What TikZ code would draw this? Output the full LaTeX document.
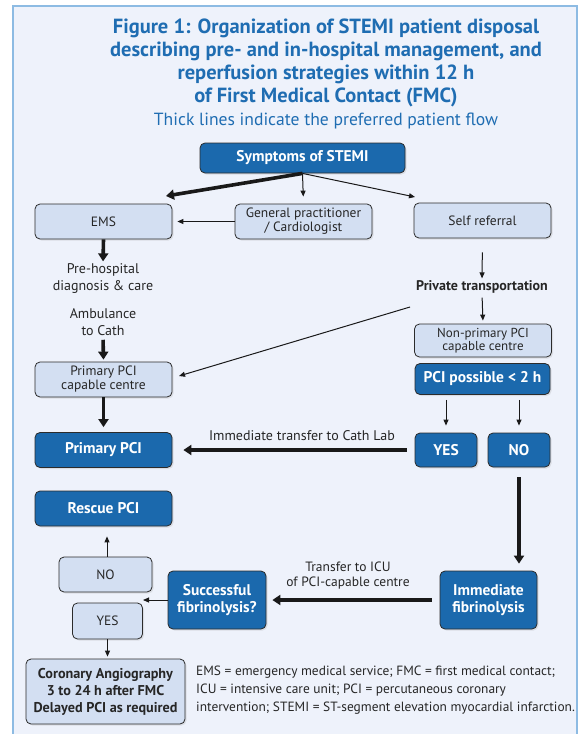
\documentclass[tikz,border=0pt]{standalone}
\usepackage{fontspec}
\setmainfont{PT Sans}
\usetikzlibrary{arrows.meta,shadows}

\definecolor{framebg}{HTML}{EEF2FB}
\definecolor{frameline}{HTML}{8DBBE3}
\definecolor{darkfill}{HTML}{1B69AD}
\definecolor{lightfill}{HTML}{D3DFF2}
\definecolor{titleblue}{HTML}{1F6DB2}
\definecolor{edgecol}{HTML}{2B2B2B}
\definecolor{txt}{HTML}{262626}

\newcommand{\fs}[2]{\fontsize{#1}{#2}\selectfont}

\tikzset{
  box/.style={rounded corners=5pt, draw=edgecol, line width=0.8pt,
    drop shadow={shadow xshift=1.5pt, shadow yshift=-1.5pt, opacity=0.18},
    align=center, inner sep=0pt},
  darkbox/.style={box, fill=darkfill, text=white, font=\bfseries\fs{15.5}{17}},
  lightbox/.style={box, fill=lightfill, text=txt, font=\fs{13.5}{14}},
  plain/.style={align=center, text=txt, inner sep=0pt, font=\fs{14}{17}},
  thinarrow/.style={draw=black!90, line width=1pt, -{Triangle[length=6pt,width=5pt]}},
  thickarrow/.style={draw=black!90, line width=3.6pt, -{Triangle[length=8pt,width=10pt]}}
}

\begin{document}
\begin{tikzpicture}[x=1pt,y=-1pt]
\useasboundingbox (0,0) rectangle (583,734);

% outer panel
\draw[frameline, line width=1.2pt, fill=framebg] (13,6) rectangle (577,760);

% heading
\node[align=center, text=titleblue, font=\bfseries\fs{20.5}{23}, inner sep=0pt] (title) at (326,62.5)
  {Figure 1: Organization of STEMI patient disposal\\
   describing pre- and in-hospital management, and\\
   reperfusion strategies within 12 h\\
   of First Medical Contact (FMC)};
\node[text=titleblue, font=\fs{17.6}{18}, inner sep=0pt] (subtitle) at (326,121)
  {Thick lines indicate the preferred patient flow};

% boxes
\node[darkbox, minimum width=205pt, minimum height=30pt] (symptoms) at (302.5,158) {Symptoms of STEMI};
\node[lightbox, minimum width=137pt, minimum height=35pt] (ems) at (103.5,221.5) {EMS};
\node[lightbox, minimum width=137pt, minimum height=35pt] (gp) at (303.5,221.5) {General practitioner\\/ Cardiologist};
\node[lightbox, minimum width=137pt, minimum height=35pt] (self) at (482.5,220.5) {Self referral};

\node[plain] (pre) at (103,278.5) {Pre-hospital\\diagnosis \& care};
\node[plain] (amb) at (103,322) {Ambulance\\to Cath};
\node[lightbox, minimum width=137pt, minimum height=35pt] (ppc) at (103.5,379.5) {Primary PCI\\capable centre};

\node[plain, font=\bfseries\fs{14}{15}] (priv) at (482,287) {Private transportation};
\node[lightbox, minimum width=137pt, minimum height=33pt, font=\fs{13}{13}] (nonprim) at (483,340.5) {Non-primary PCI\\capable centre};
\node[darkbox, minimum width=135pt, minimum height=31pt] (pcip) at (482.5,379) {PCI possible < 2 h};
\node[darkbox, minimum width=62pt, minimum height=34pt] (yes) at (446,450) {YES};
\node[darkbox, minimum width=62pt, minimum height=34pt] (no) at (519,450) {NO};

\node[darkbox, minimum width=137pt, minimum height=35pt] (primary) at (103.5,450) {Primary PCI};
\node[darkbox, minimum width=137pt, minimum height=35pt] (rescue) at (103.5,508.5) {Rescue PCI};

\node[darkbox, minimum width=97pt, minimum height=58pt] (immed) at (488.5,600) {Immediate\\fibrinolysis};
\node[darkbox, minimum width=98pt, minimum height=58pt] (succ) at (217,600) {Successful\\fibrinolysis?};
\node[lightbox, minimum width=93pt, minimum height=35pt] (nolight) at (105.5,574.5) {NO};
\node[lightbox, minimum width=70pt, minimum height=36pt] (yeslight) at (107.5,621) {YES};
\node[lightbox, minimum width=159pt, minimum height=65pt, font=\bfseries\fs{14.2}{17}] (coro) at (105.5,691.5)
  {Coronary Angiography\\3 to 24 h after FMC\\Delayed PCI as required};

% connector labels
\node[plain] (lbltransfer) at (302,436) {Immediate transfer to Cath Lab};
\node[plain, font=\fs{13.5}{15}] (lblicu) at (348,576) {Transfer to ICU\\of PCI-capable centre};

% abbreviations
\node[plain, align=left, anchor=west, font=\fs{13.4}{18}] (legend) at (196,690)
  {EMS = emergency medical service; FMC = first medical contact;\\
   ICU = intensive care unit; PCI = percutaneous coronary\\
   intervention; STEMI = ST-segment elevation myocardial infarction.};

% free connector ends
\coordinate (emsin) at (166,196);
\coordinate (selfin) at (415,197);
\coordinate (divert) at (410,307);
\coordinate (ppcin) at (179,376);
\coordinate (split) at (143,600);

% connectors
\draw[thickarrow] (symptoms.south) -- (emsin);
\draw[thinarrow, shorten >=7pt] (symptoms.south) -- (gp.north);
\draw[thinarrow] (symptoms.south) -- (selfin);
\draw[thinarrow, shorten >=5pt] (gp.west) -- (ems.east);
\draw[thickarrow, shorten >=2pt] (ems.south) -- (pre.north);
\draw[thickarrow, shorten <=4pt, shorten >=2pt] (amb.south) -- (ppc.north);
\draw[thickarrow, shorten >=5pt] (ppc.south) -- (primary.north);

\draw[thinarrow, shorten <=14pt, shorten >=2pt] (self.south) -- (priv.north);
\draw[thinarrow, shorten <=4pt, shorten >=3pt] (priv.south) -- (nonprim.north);
\draw[thinarrow] (divert) -- (ppcin);

\draw[thinarrow, shorten <=5pt, shorten >=7pt] (yes.north |- pcip.south) -- (yes.north);
\draw[thinarrow, shorten <=5pt, shorten >=7pt] (no.north |- pcip.south) -- (no.north);

\draw[thickarrow, shorten <=8pt, shorten >=11pt] (yes.west) -- (primary.east |- yes.west);
\draw[thickarrow, shorten <=10pt, shorten >=7pt] (no.south) -- (no.south |- immed.north);
\draw[thickarrow, shorten <=8pt, shorten >=6pt] (immed.west) -- (succ.east);
\draw[thinarrow] (succ.west) -- (split);
\draw[thinarrow, shorten >=10pt] (nolight.north -| 107,0) -- (rescue.south -| 107,0);
\draw[thinarrow, shorten >=2pt] (yeslight.south) -- (coro.north -| yeslight.south);

\end{tikzpicture}
\end{document}
